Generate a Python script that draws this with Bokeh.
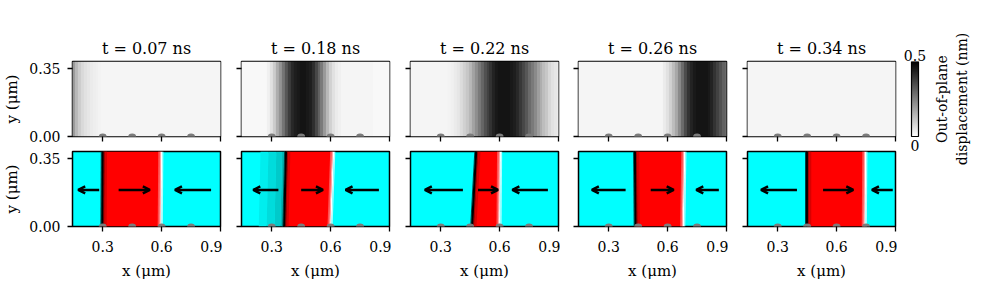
import numpy as np
from bokeh.plotting import figure
from bokeh.layouts import row, column
from bokeh.models import (Range1d, FixedTicker, PrintfTickFormatter, Label,
                          Arrow, OpenHead, ColumnDataSource, LinearColorMapper)
from bokeh.palettes import Greys256
from bokeh.embed import file_html
from bokeh.resources import INLINE

# ---------------- data ----------------
times = ["0.07", "0.18", "0.22", "0.26", "0.34"]

# out-of-plane displacement (nm) sampled along x, from 0.15 um in steps of 0.015 um
profile_x0 = 0.15
profile_dx = 0.015
disp_t007 = [0.20, 0.14, 0.10, 0.075, 0.06, 0.05, 0.04, 0.035, 0.03, 0.025,
             0.02, 0.02, 0.02, 0.02, 0.02, 0.02, 0.02, 0.02, 0.02, 0.02,
             0.02, 0.02, 0.02, 0.02, 0.02, 0.02, 0.02, 0.02, 0.02, 0.02,
             0.02, 0.02, 0.02, 0.02, 0.02, 0.02, 0.02, 0.02, 0.02, 0.02,
             0.02, 0.02, 0.02, 0.02, 0.02, 0.02, 0.02, 0.02, 0.02, 0.02, 0.02]
disp_t018 = [0.015, 0.015, 0.015, 0.015, 0.015, 0.015, 0.015, 0.015, 0.015, 0.03,
             0.06, 0.10, 0.16, 0.21, 0.27, 0.33, 0.38, 0.42, 0.44, 0.45,
             0.46, 0.46, 0.45, 0.44, 0.41, 0.36, 0.31, 0.26, 0.20, 0.14,
             0.09, 0.06, 0.04, 0.03, 0.02, 0.02, 0.02, 0.02, 0.02, 0.02,
             0.02, 0.02, 0.02, 0.02, 0.02, 0.015, 0.015, 0.015, 0.015, 0.015, 0.015]
disp_t022 = [0.02, 0.02, 0.02, 0.02, 0.02, 0.02, 0.02, 0.02, 0.02, 0.02,
             0.02, 0.02, 0.02, 0.025, 0.03, 0.04, 0.05, 0.07, 0.09, 0.11,
             0.14, 0.18, 0.22, 0.26, 0.30, 0.34, 0.37, 0.40, 0.43, 0.45,
             0.46, 0.46, 0.46, 0.46, 0.45, 0.44, 0.42, 0.39, 0.36, 0.33,
             0.29, 0.26, 0.23, 0.19, 0.16, 0.13, 0.11, 0.08, 0.06, 0.05, 0.04]
disp_t026 = [0.02, 0.02, 0.02, 0.02, 0.02, 0.02, 0.02, 0.02, 0.02, 0.02,
             0.02, 0.02, 0.02, 0.02, 0.02, 0.02, 0.02, 0.02, 0.02, 0.02,
             0.02, 0.02, 0.02, 0.02, 0.02, 0.02, 0.02, 0.02, 0.02, 0.04,
             0.06, 0.09, 0.13, 0.17, 0.23, 0.29, 0.35, 0.40, 0.43, 0.45,
             0.46, 0.46, 0.46, 0.46, 0.45, 0.43, 0.40, 0.37, 0.34, 0.31, 0.29]
disp_t034 = [0.02, 0.02, 0.02, 0.02, 0.02, 0.02, 0.02, 0.02, 0.02, 0.02,
             0.02, 0.02, 0.02, 0.02, 0.02, 0.02, 0.02, 0.02, 0.02, 0.02,
             0.02, 0.02, 0.02, 0.02, 0.02, 0.02, 0.02, 0.02, 0.02, 0.02,
             0.02, 0.02, 0.02, 0.02, 0.02, 0.02, 0.02, 0.02, 0.02, 0.02,
             0.02, 0.02, 0.02, 0.02, 0.02, 0.02, 0.02, 0.02, 0.02, 0.02, 0.02]
displacement = [disp_t007, disp_t018, disp_t022, disp_t026, disp_t034]

# domain wall positions (um) at bottom (y=0) and top edge of the strip
wall_left_bottom = [0.298, 0.364, 0.460, 0.437, 0.449]
wall_left_top = [0.300, 0.373, 0.481, 0.434, 0.449]
wall_right_bottom = [0.596, 0.600, 0.600, 0.680, 0.744]
wall_right_top = [0.599, 0.614, 0.603, 0.686, 0.747]

# in-plane magnetisation arrows: tail and head x (um) of the three arrows
arrow_tail = [[0.282, 0.381, 0.852], [0.334, 0.450, 0.846], [0.413, 0.490, 0.846],
              [0.386, 0.514, 0.861], [0.398, 0.531, 0.886]]
arrow_head = [[0.175, 0.540, 0.668], [0.206, 0.561, 0.676], [0.219, 0.592, 0.665],
              [0.214, 0.631, 0.746], [0.215, 0.685, 0.780]]
arrow_y = 0.187

# pinning notches along the lower edge
notch_x = [0.30, 0.45, 0.60, 0.75]

x_ticks = [0.3, 0.6, 0.9]
y_ticks = [0.0, 0.35]
cbar_low, cbar_high = 0.0, 0.5
cbar_labels = ["0", "0.5"]
cbar_title = "Out-of-plane\ndisplacement (nm)"

# ---------------- styling ----------------
FONT = "DejaVu Serif"
X0, X1 = 0.146, 0.9
Y0, Y1 = 0.0, 0.384
FW, FH = 148, 75
TOP_B = 61
left_borders = [66, 19, 19, 18, 19]

mapper = LinearColorMapper(palette=list(reversed(Greys256)), low=cbar_low, high=cbar_high)


def style_axes(p, i, top):
    p.xaxis.ticker = FixedTicker(ticks=x_ticks)
    p.yaxis.ticker = FixedTicker(ticks=y_ticks)
    p.xaxis.formatter = PrintfTickFormatter(format="%.1f")
    p.yaxis.formatter = PrintfTickFormatter(format="%.2f")
    for ax in p.axis:
        ax.axis_line_color = None
        ax.major_tick_out = 5
        ax.major_tick_in = 0
        ax.major_tick_line_width = 1.3
        ax.major_tick_line_color = "black"
        ax.minor_tick_line_color = None
        ax.major_label_text_font = FONT
        ax.major_label_text_font_size = "14px"
        ax.major_label_text_color = "black"
        ax.axis_label_text_font = FONT
        ax.axis_label_text_font_size = "15px"
        ax.axis_label_text_font_style = "normal"
        ax.axis_label_text_color = "black"
    p.yaxis.major_label_standoff = 7
    p.yaxis.axis_label_standoff = 5
    p.xaxis.major_label_standoff = 9
    p.xaxis.axis_label_standoff = 7
    if i == 0:
        p.yaxis.axis_label = "y (μm)"
    else:
        p.yaxis.major_label_overrides = {t: "" for t in y_ticks}
        p.yaxis.major_label_text_font_size = "0px"
        p.yaxis.major_label_standoff = 0
    if top:
        p.xaxis.major_label_overrides = {t: "" for t in x_ticks}
        p.xaxis.major_label_text_font_size = "0px"
        p.xaxis.major_label_standoff = 0
    else:
        p.xaxis.axis_label = "x (μm)"


def base_fig(i, top):
    p = figure(frame_width=FW, frame_height=FH,
               x_range=Range1d(X0, X1), y_range=Range1d(Y0, Y1),
               min_border_left=left_borders[i], min_border_right=2,
               min_border_top=TOP_B if top else 3,
               min_border_bottom=12 if top else 56,
               output_backend="svg", toolbar_location=None, tools="")
    p.grid.visible = False
    p.outline_line_color = "black"
    p.outline_line_width = 1.5
    p.outline_line_alpha = 1.0
    p.border_fill_color = "white"
    style_axes(p, i, top)
    return p


def strip(p, xb, xt, d0, d1, color):
    p.patch(x=[xb + d0, xb + d1, xt + d1, xt + d0], y=[Y0, Y0, Y1, Y1],
            fill_color=color, line_color=None)


top_figs, bottom_figs = [], []
for i in range(5):
    # ---- top row: displacement maps ----
    p = base_fig(i, True)
    p.title.text = "t = " + times[i] + " ns"
    p.title.align = "center"
    p.title.text_font = FONT
    p.title.text_font_size = "16px"
    p.title.text_font_style = "normal"
    p.title.text_color = "black"
    p.title.standoff = 8
    prof = np.array([displacement[i]])
    n = prof.shape[1]
    p.image(image=[prof], x=profile_x0 - profile_dx / 2, y=Y0,
            dw=profile_dx * n, dh=Y1 - Y0, color_mapper=mapper)
    p.ellipse(x=notch_x, y=[0.0] * len(notch_x), width=0.04, height=0.03,
              fill_color="#7c7c7c", line_color=None)
    top_figs.append(p)

    # ---- bottom row: magnetisation ----
    q = base_fig(i, False)
    q.background_fill_color = "#00ffff"
    lb, lt = wall_left_bottom[i], wall_left_top[i]
    rb, rt = wall_right_bottom[i], wall_right_top[i]
    if i == 1:
        strip(q, lb, lt, -0.13, -0.09, "#00eeee")
        strip(q, lb, lt, -0.09, -0.05, "#00dcdc")
        strip(q, lb, lt, -0.05, -0.02, "#00caca")
        strip(q, lb, lt, -0.02, -0.006, "#00b4b4")
    q.patch(x=[lb, rb, rt, lt], y=[Y0, Y0, Y1, Y1], fill_color="#ff0000", line_color=None)
    strip(q, lb, lt, 0.004, 0.012, "#a00000")
    strip(q, lb, lt, 0.012, 0.022, "#d80000")
    strip(q, lb, lt, -0.010, -0.005, "#005050")
    strip(q, lb, lt, -0.006, 0.005, "#000000")
    strip(q, rb, rt, -0.016, -0.008, "#ff5050")
    strip(q, rb, rt, -0.008, -0.003, "#ffb0b0")
    strip(q, rb, rt, -0.003, 0.004, "#ffffff")
    strip(q, rb, rt, 0.004, 0.010, "#b0ffff")
    q.ellipse(x=notch_x, y=[0.0] * len(notch_x), width=0.04, height=0.03,
              fill_color="#7c7c7c", line_color=None)
    src = ColumnDataSource(dict(xs=arrow_tail[i], xe=arrow_head[i],
                                y=[arrow_y] * len(arrow_tail[i])))
    q.add_layout(Arrow(end=OpenHead(size=7, line_width=2.5, line_color="black"),
                       x_start="xs", y_start="y", x_end="xe", y_end="y",
                       source=src, line_width=2.5, line_color="black"))
    bottom_figs.append(q)

# ---------------- colourbar ----------------
CB_FH = 119
CB_FW = 29
BAR_L, BAR_R = 11, 18          # bar position inside the colourbar frame (px units)
cb = figure(frame_width=CB_FW, frame_height=CB_FH, x_range=Range1d(0, CB_FW),
            y_range=Range1d(cbar_high - CB_FH / 150, cbar_high),
            min_border_left=3, min_border_right=0, min_border_top=TOP_B,
            min_border_bottom=0, x_axis_type=None, y_axis_type=None,
            output_backend="svg", toolbar_location=None, tools="")
cb.grid.visible = False
cb.outline_line_color = None
cb.border_fill_color = "white"
cb.title.text = cbar_labels[1]
cb.title.align = "center"
cb.title.text_font = FONT
cb.title.text_font_size = "14px"
cb.title.text_font_style = "normal"
cb.title.text_color = "black"
cb.title.standoff = 2
grad = np.linspace(cbar_low, cbar_high, 256).reshape(-1, 1)
cb.image(image=[grad], x=BAR_L, y=cbar_low, dw=BAR_R - BAR_L, dh=cbar_high - cbar_low,
         color_mapper=mapper)
cb.quad(left=BAR_L, right=BAR_R, bottom=cbar_low, top=cbar_high, fill_color=None,
        line_color="black", line_width=1.2)
cb.add_layout(Label(x=(BAR_L + BAR_R) / 2, y=cbar_low, y_offset=-3, text=cbar_labels[0],
                    text_font=FONT, text_font_size="14px", text_align="center",
                    text_baseline="top", text_color="black"))

lab = figure(frame_width=2, frame_height=FH, x_range=Range1d(0, 1), y_range=Range1d(0, 1),
             min_border_left=43, min_border_right=0, min_border_top=TOP_B,
             min_border_bottom=40, x_axis_type=None,
             output_backend="svg", toolbar_location=None, tools="")
lab.grid.visible = False
lab.outline_line_color = None
lab.border_fill_color = "white"
lab.yaxis.ticker = FixedTicker(ticks=[])
lab.yaxis.axis_line_color = None
lab.yaxis.major_tick_line_color = None
lab.yaxis.minor_tick_line_color = None
lab.yaxis.major_tick_out = 0
lab.yaxis.major_label_standoff = 0
lab.yaxis.axis_label = cbar_title
lab.yaxis.axis_label_standoff = 3
lab.yaxis.axis_label_text_font = FONT
lab.yaxis.axis_label_text_font_size = "14px"
lab.yaxis.axis_label_text_font_style = "normal"
lab.yaxis.axis_label_text_color = "black"

layout = row(column(row(*top_figs), row(*bottom_figs)), cb, lab)
open("out.html", "w").write(file_html(layout, INLINE))
